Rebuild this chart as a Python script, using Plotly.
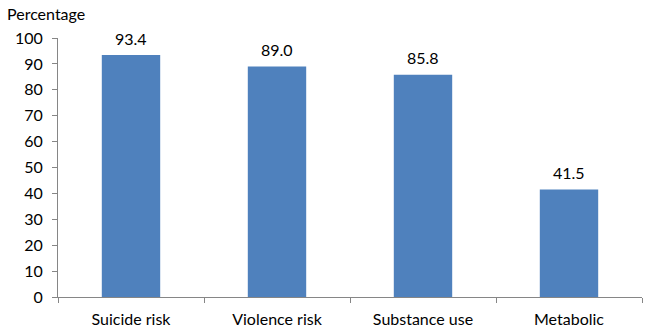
import plotly.graph_objects as go

categories = ["Suicide risk", "Violence risk", "Substance use", "Metabolic"]
values = [93.4, 89.0, 85.8, 41.5]
value_labels = ["93.4", "89.0", "85.8", "41.5"]
y_ticks = list(range(0, 101, 10))

W, H = 650, 332
ml, mr, mt, mb = 58, 8, 38, 35
pw = W - ml - mr
ph = H - mt - mb

FONT = "Lato"
FS = 16
fig = go.Figure(go.Bar(
    x=categories, y=values,
    marker=dict(color="#4F81BD", line=dict(width=0)),
    cliponaxis=False,
))
for c, v, t in zip(categories, values, value_labels):
    fig.add_annotation(
        x=c, y=v, text=t, showarrow=False,
        yanchor="middle", yshift=17,
        font=dict(family=FONT, size=FS, color="#000"),
    )

fig.update_layout(
    width=W, height=H,
    margin=dict(l=ml, r=mr, t=mt, b=mb, autoexpand=False),
    plot_bgcolor="white", paper_bgcolor="white",
    bargap=0.6,
    showlegend=False,
    font=dict(family=FONT, size=FS, color="#000"),
)
fig.update_xaxes(
    automargin=False,
    showgrid=False, showline=True, linecolor="#868686", linewidth=1,
    ticks="outside", tickson="boundaries", ticklen=5, tickcolor="#868686",
    ticklabelstandoff=8,
    tickfont=dict(family=FONT, size=FS, color="#000"),
)
fig.update_yaxes(
    automargin=False,
    range=[0, 100], tickvals=y_ticks, showgrid=False, zeroline=False,
    showline=True, linecolor="#868686", linewidth=1,
    ticks="outside", ticklen=5, tickcolor="#868686",
    ticklabelstandoff=6,
    tickfont=dict(family=FONT, size=FS, color="#000"),
)
fig.add_annotation(
    text="Percentage", xref="paper", yref="paper",
    x=(5 - ml) / pw, y=1 + (mt - 14) / ph,
    xanchor="left", yanchor="middle", showarrow=False,
    font=dict(family=FONT, size=FS, color="#000"),
)
fig.write_html("out.html")
